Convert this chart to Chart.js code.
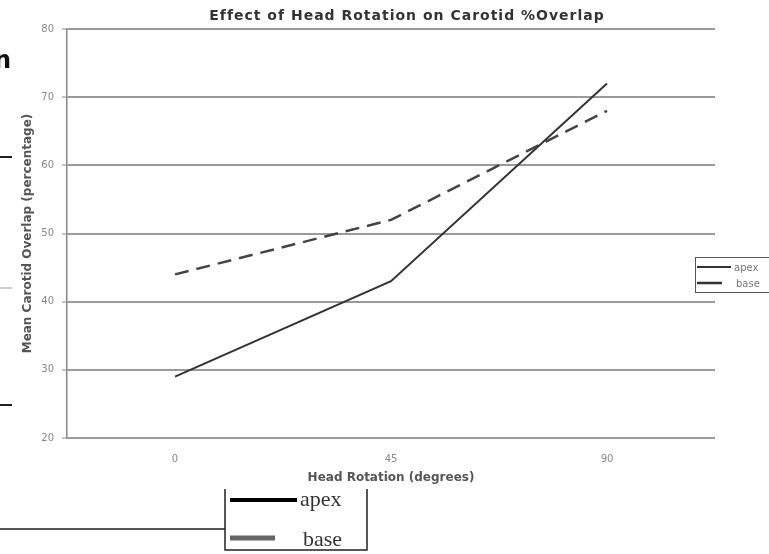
<!DOCTYPE html>
<html>
<head>
<meta charset="utf-8">
<title>Effect of Head Rotation on Carotid %Overlap</title>
<script src="https://cdn.jsdelivr.net/npm/chart.js@4.4.0/dist/chart.umd.min.js"></script>
<style>
  html, body { margin: 0; padding: 0; background: #fff; }
  #wrap { position: relative; width: 769px; height: 554px; overflow: hidden; }
</style>
</head>
<body>
<div id="wrap"><canvas id="overlap-chart" width="769" height="554"></canvas></div>
<script>
const rotations = ['0', '45', '90'];
const apexValues = [29, 43, 72];
const baseValues = [44, 52, 68];
const yTicks = [20, 30, 40, 50, 60, 70, 80];

const chartTitle = 'Effect of Head Rotation on Carotid %Overlap';
const xTitle = 'Head Rotation (degrees)';
const yTitle = 'Mean Carotid Overlap (percentage)';

// title, side legend and the pasted-in legend box underneath
const extras = {
  id: 'extras',
  afterDraw(chart) {
    const ctx = chart.ctx;
    ctx.save();

    ctx.fillStyle = '#333';
    ctx.font = 'bold 14px "DejaVu Sans"';
    ctx.letterSpacing = '1px';
    ctx.textAlign = 'center';
    ctx.textBaseline = 'middle';
    ctx.fillText(chartTitle, 407, 16);
    ctx.letterSpacing = '0px';

    // side legend, cut off by the right edge
    ctx.strokeStyle = '#555';
    ctx.lineWidth = 1;
    ctx.strokeRect(695.5, 257.5, 90, 35);
    ctx.lineWidth = 2;
    ctx.strokeStyle = '#333';
    ctx.beginPath();
    ctx.moveTo(697, 267); ctx.lineTo(731, 267);
    ctx.stroke();
    ctx.lineWidth = 2.5;
    ctx.beginPath();
    ctx.moveTo(697, 283); ctx.lineTo(722, 283);
    ctx.stroke();
    ctx.fillStyle = '#777';
    ctx.font = '10px "DejaVu Sans"';
    ctx.textAlign = 'left';
    ctx.fillText('apex', 734, 268);
    ctx.fillText('base', 736, 284);

    // legend box below the axis
    ctx.strokeStyle = '#222';
    ctx.lineWidth = 1.5;
    ctx.beginPath();
    ctx.moveTo(225, 489); ctx.lineTo(225, 550); ctx.lineTo(367, 550); ctx.lineTo(367, 489);
    ctx.moveTo(0, 529); ctx.lineTo(225, 529);
    ctx.stroke();
    ctx.lineWidth = 4;
    ctx.strokeStyle = '#000';
    ctx.beginPath();
    ctx.moveTo(230, 500); ctx.lineTo(297, 500);
    ctx.stroke();
    ctx.lineWidth = 5;
    ctx.strokeStyle = '#666';
    ctx.beginPath();
    ctx.moveTo(230, 538); ctx.lineTo(275, 538);
    ctx.stroke();
    ctx.fillStyle = '#333';
    ctx.font = '22px "Liberation Serif"';
    ctx.textBaseline = 'alphabetic';
    ctx.fillText('apex', 300, 506);
    ctx.fillText('base', 303, 546);

    // fragments along the left edge
    ctx.fillStyle = '#111';
    ctx.font = 'bold 24px "DejaVu Sans"';
    ctx.fillText('n', -6, 68);
    ctx.lineWidth = 2;
    ctx.strokeStyle = '#222';
    ctx.beginPath();
    ctx.moveTo(0, 157); ctx.lineTo(12, 157);
    ctx.moveTo(0, 405); ctx.lineTo(12, 405);
    ctx.stroke();
    ctx.strokeStyle = '#ccc';
    ctx.beginPath();
    ctx.moveTo(0, 288); ctx.lineTo(12, 288);
    ctx.stroke();

    ctx.restore();
  }
};

const overlapChart = new Chart(document.getElementById('overlap-chart').getContext('2d'), {
  type: 'line',
  data: {
    labels: rotations,
    datasets: [{
      label: 'apex',
      data: apexValues,
      borderColor: '#333',
      borderWidth: 2,
      pointRadius: 0,
      tension: 0,
      fill: false
    }, {
      label: 'base',
      data: baseValues,
      borderColor: '#444',
      borderWidth: 2.5,
      borderDash: [14, 8],
      pointRadius: 0,
      tension: 0,
      fill: false
    }]
  },
  options: {
    responsive: false,
    animation: false,
    layout: {
      padding: { left: 21, top: 29, right: 54, bottom: 69 }
    },
    plugins: {
      legend: { display: false },
      title: { display: false },
      tooltip: { enabled: false }
    },
    scales: {
      x: {
        offset: true,
        grid: { display: false, drawTicks: false },
        border: { display: false },
        ticks: {
          color: '#888',
          font: { family: 'DejaVu Sans', size: 10 },
          padding: 15,
          maxRotation: 0
        },
        title: {
          display: true,
          text: xTitle,
          color: '#555',
          font: { family: 'DejaVu Sans', size: 12, weight: 'bold' },
          padding: 0
        },
        afterFit(scale) { scale.height = 47; }
      },
      y: {
        min: 20,
        max: 80,
        afterBuildTicks(scale) { scale.ticks = yTicks.map(v => ({ value: v })); },
        grid: {
          color: '#9a9a9a',
          lineWidth: 2,
          tickLength: 5,
          tickColor: '#888',
          tickWidth: 1
        },
        border: { color: '#888', width: 1.5 },
        ticks: {
          color: '#888',
          font: { family: 'DejaVu Sans', size: 10 },
          padding: 8
        },
        title: {
          display: true,
          text: yTitle,
          color: '#555',
          font: { family: 'DejaVu Sans', size: 12, weight: 'bold' },
          padding: 0
        },
        afterFit(scale) { scale.width = 46; }
      }
    }
  },
  plugins: [extras]
});
</script>
</body>
</html>
